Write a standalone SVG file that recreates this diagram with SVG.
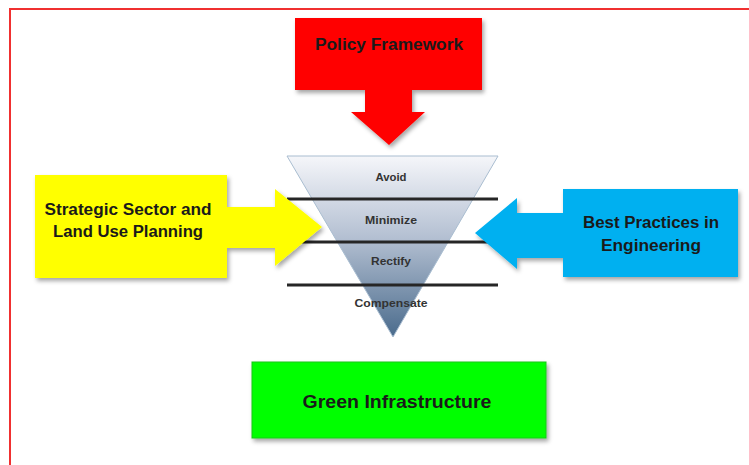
<svg xmlns="http://www.w3.org/2000/svg" width="749" height="465" viewBox="0 0 749 465">
<style>
.lbl{font-family:"Liberation Sans",Arial,sans-serif;font-weight:bold;fill:#1a1a1a;text-anchor:middle}
.tier{font-family:"Liberation Sans",Arial,sans-serif;font-weight:bold;fill:#333333;text-anchor:middle;font-size:11px}
.bar{stroke:#262626;stroke-width:3}
</style>
<defs>
<linearGradient id="tri" x1="0" y1="0" x2="0" y2="1">
<stop offset="0" stop-color="#f5f6fa"/>
<stop offset="0.45" stop-color="#b4c0d2"/>
<stop offset="1" stop-color="#4a6b8c"/>
</linearGradient>
<filter id="sh" x="-10%" y="-10%" width="125%" height="130%">
<feDropShadow dx="2" dy="3" stdDeviation="2" flood-color="#000" flood-opacity="0.35"/>
</filter>
</defs>
<rect x="10" y="9" width="760" height="480" fill="#ffffff" stroke="#f03030" stroke-width="2"/>
<g id="pyramid">
<polygon points="287,156 498,156 393,337" fill="url(#tri)" stroke="#a9bdd0" stroke-width="1"/>
<line class="bar" x1="287" y1="199" x2="498" y2="199"/>
<line class="bar" x1="287" y1="242" x2="498" y2="242"/>
<line class="bar" x1="287" y1="285" x2="498" y2="285"/>
<text class="tier" x="391" y="181" textLength="31" lengthAdjust="spacingAndGlyphs">Avoid</text>
<text class="tier" x="391" y="224" textLength="52" lengthAdjust="spacingAndGlyphs">Minimize</text>
<text class="tier" x="391" y="265" textLength="40" lengthAdjust="spacingAndGlyphs">Rectify</text>
<text class="tier" x="391" y="307" textLength="73" lengthAdjust="spacingAndGlyphs">Compensate</text>
</g>
<g id="connectors"></g>
<g id="policy">
<path d="M295,18 H482 V90 H412 V112 H425 L389,145 L351,112 H365 V90 H295 Z" fill="#ff0000" filter="url(#sh)"/>
<text class="lbl" x="389" y="50" font-size="16" textLength="148" lengthAdjust="spacingAndGlyphs">Policy Framework</text>
</g>
<g id="strategic">
<path d="M35,175 H227 V207 H275 V189 L322,227 L275,266 V248 H227 V278 H35 Z" fill="#ffff00" filter="url(#sh)"/>
<text class="lbl" x="128" y="215" font-size="16" textLength="167" lengthAdjust="spacingAndGlyphs">Strategic Sector and</text>
<text class="lbl" x="128" y="237" font-size="16" textLength="150" lengthAdjust="spacingAndGlyphs">Land Use Planning</text>
</g>
<g id="best">
<path d="M738,189 H563 V213 H517 V198 L475,233 L517,269 V258 H563 V277 H738 Z" fill="#00b0f0" filter="url(#sh)"/>
<text class="lbl" x="651" y="228" font-size="16" textLength="136" lengthAdjust="spacingAndGlyphs">Best Practices in</text>
<text class="lbl" x="651" y="251" font-size="16" textLength="100" lengthAdjust="spacingAndGlyphs">Engineering</text>
</g>
<g id="green">
<rect x="252" y="362" width="294" height="76" fill="#00ff00" stroke="#14c814" stroke-width="1" filter="url(#sh)"/>
<text class="lbl" x="397" y="408" font-size="19" textLength="189" lengthAdjust="spacingAndGlyphs">Green Infrastructure</text>
</g>
</svg>
